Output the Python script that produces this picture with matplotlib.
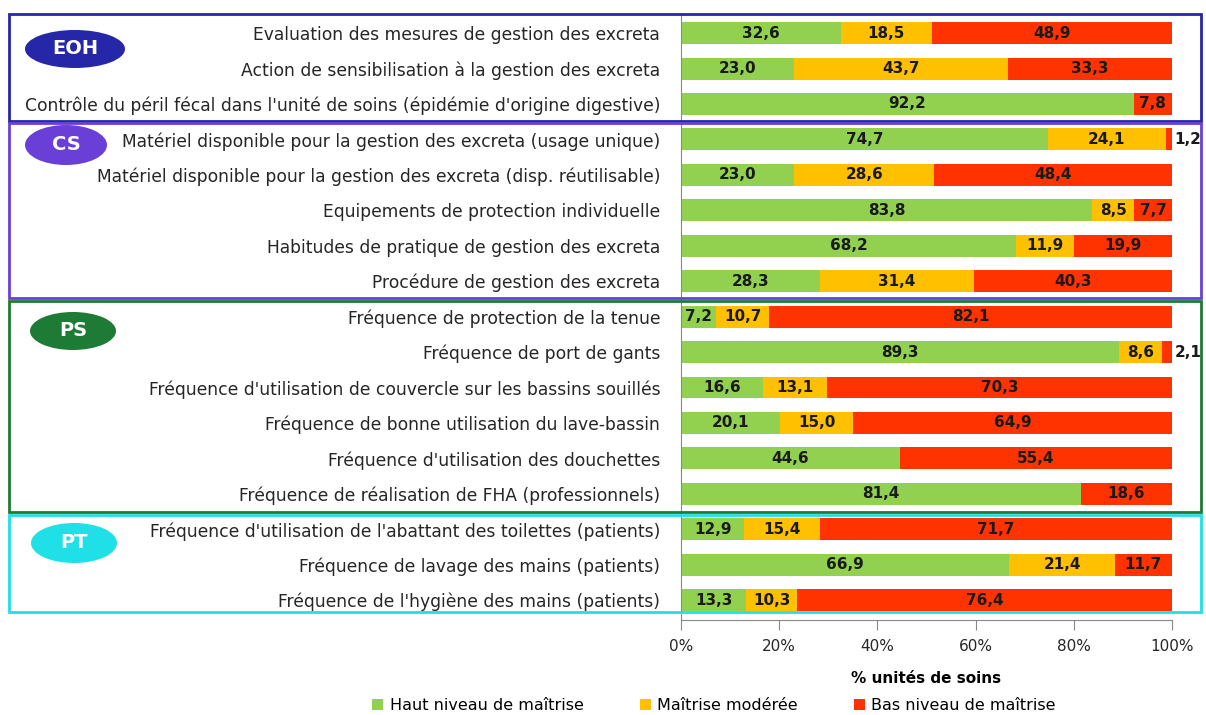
import numpy as np
import matplotlib
matplotlib.use("Agg")
import matplotlib.pyplot as plt
from matplotlib.patches import Ellipse, Rectangle

plt.rcParams["font.family"] = ["DejaVu Sans"]

# ---- data ----
labels = [
    "Evaluation des mesures de gestion des excreta",
    "Action de sensibilisation à la gestion des excreta",
    "Contrôle du péril fécal dans l'unité de soins (épidémie d'origine digestive)",
    "Matériel disponible pour la gestion des excreta (usage unique)",
    "Matériel disponible pour la gestion des excreta (disp. réutilisable)",
    "Equipements de protection individuelle",
    "Habitudes de pratique de gestion des excreta",
    "Procédure de gestion des excreta",
    "Fréquence de protection de la tenue",
    "Fréquence de port de gants",
    "Fréquence d'utilisation de couvercle sur les bassins souillés",
    "Fréquence de bonne utilisation du lave-bassin",
    "Fréquence d'utilisation des douchettes",
    "Fréquence de réalisation de FHA (professionnels)",
    "Fréquence d'utilisation de l'abattant des toilettes (patients)",
    "Fréquence de lavage des mains (patients)",
    "Fréquence de l'hygiène des mains (patients)",
]
haut = [32.6, 23.0, 92.2, 74.7, 23.0, 83.8, 68.2, 28.3, 7.2, 89.3, 16.6, 20.1, 44.6, 81.4, 12.9, 66.9, 13.3]
moderee = [18.5, 43.7, 0.0, 24.1, 28.6, 8.5, 11.9, 31.4, 10.7, 8.6, 13.1, 15.0, 0.0, 0.0, 15.4, 21.4, 10.3]
bas = [48.9, 33.3, 7.8, 1.2, 48.4, 7.7, 19.9, 40.3, 82.1, 2.1, 70.3, 64.9, 55.4, 18.6, 71.7, 11.7, 76.4]

series_names = ["Haut niveau de maîtrise", "Maîtrise modérée", "Bas niveau de maîtrise"]
series_colors = ["#92D050", "#FFC000", "#FF3300"]

# groups: (name, colour)
groups = [("EOH", "#2626A8"), ("CS", "#6A3FD8"), ("PS", "#1E7B36"), ("PT", "#1FE0E6")]

W, H = 1206, 715
fig = plt.figure(figsize=(W / 100, H / 100), dpi=100)
ax = fig.add_axes([681 / W, 1 - 620 / H, (1172 - 681) / W, (620 - 15) / H])

y = np.arange(len(labels))
left = np.zeros(len(labels))
for vals, name, col in zip([haut, moderee, bas], series_names, series_colors):
    vals = np.array(vals)
    ax.barh(y, vals, left=left, height=0.62, color=col, label=name, zorder=2)
    for yi, l, v in zip(y, left, vals):
        if v <= 0:
            continue
        txt = f"{v:.1f}".replace(".", ",")
        if v < 5:
            ax.text(l + v + 0.5, yi, txt, ha="left", va="center",
                    fontsize=11, fontweight="bold", color="#1a1a1a", clip_on=False)
        else:
            ax.text(l + v / 2, yi, txt, ha="center", va="center",
                    fontsize=11, fontweight="bold", color="#1a1a1a")
    left += vals

ax.set_xlim(0, 100)
ax.set_ylim(len(labels) - 0.44, -0.51)
ax.set_yticks(y)
ax.set_yticklabels(labels, fontsize=12.3, color="#262626")
ax.tick_params(axis="y", length=0, pad=15)
ax.set_xticks([0, 20, 40, 60, 80, 100])
ax.set_xticklabels(["0%", "20%", "40%", "60%", "80%", "100%"], fontsize=11, color="#262626")
ax.tick_params(axis="x", length=7, color="#888888", pad=7)
for s in ["top", "right"]:
    ax.spines[s].set_visible(False)
ax.spines["left"].set_color("#888888")
ax.spines["bottom"].set_color("#888888")
ax.set_xlabel("% unités de soins", fontsize=11, fontweight="bold", labelpad=12)

fig.legend(loc="lower center", bbox_to_anchor=(0.592, -0.018), ncol=3, frameon=False,
           fontsize=11.5, handlelength=0.7, handleheight=0.7, columnspacing=3.5,
           handletextpad=0.4)

# group boxes and badges, positioned in figure pixels
box_px = {"EOH": (14, 121), "CS": (123, 298), "PS": (301, 512), "PT": (515, 612)}
badge_px = {"EOH": (75, 49, 100, 38), "CS": (66, 145, 82, 40),
            "PS": (73, 331, 86, 38), "PT": (74, 543, 86, 40)}
for name, col in groups:
    top, bot = box_px[name]
    fig.patches.append(Rectangle((9 / W, 1 - bot / H), (1201 - 9) / W, (bot - top) / H,
                                 transform=fig.transFigure, fill=False, edgecolor=col,
                                 linewidth=2, zorder=5))
    cx, cy, w, h = badge_px[name]
    fig.patches.append(Ellipse((cx / W, 1 - cy / H), w / W, h / H, transform=fig.transFigure,
                               facecolor=col, edgecolor="none", zorder=6))
    fig.text(cx / W, 1 - cy / H, name, ha="center", va="center", color="white",
             fontsize=14, fontweight="bold", zorder=7)

fig.savefig("out.png", dpi=100)
